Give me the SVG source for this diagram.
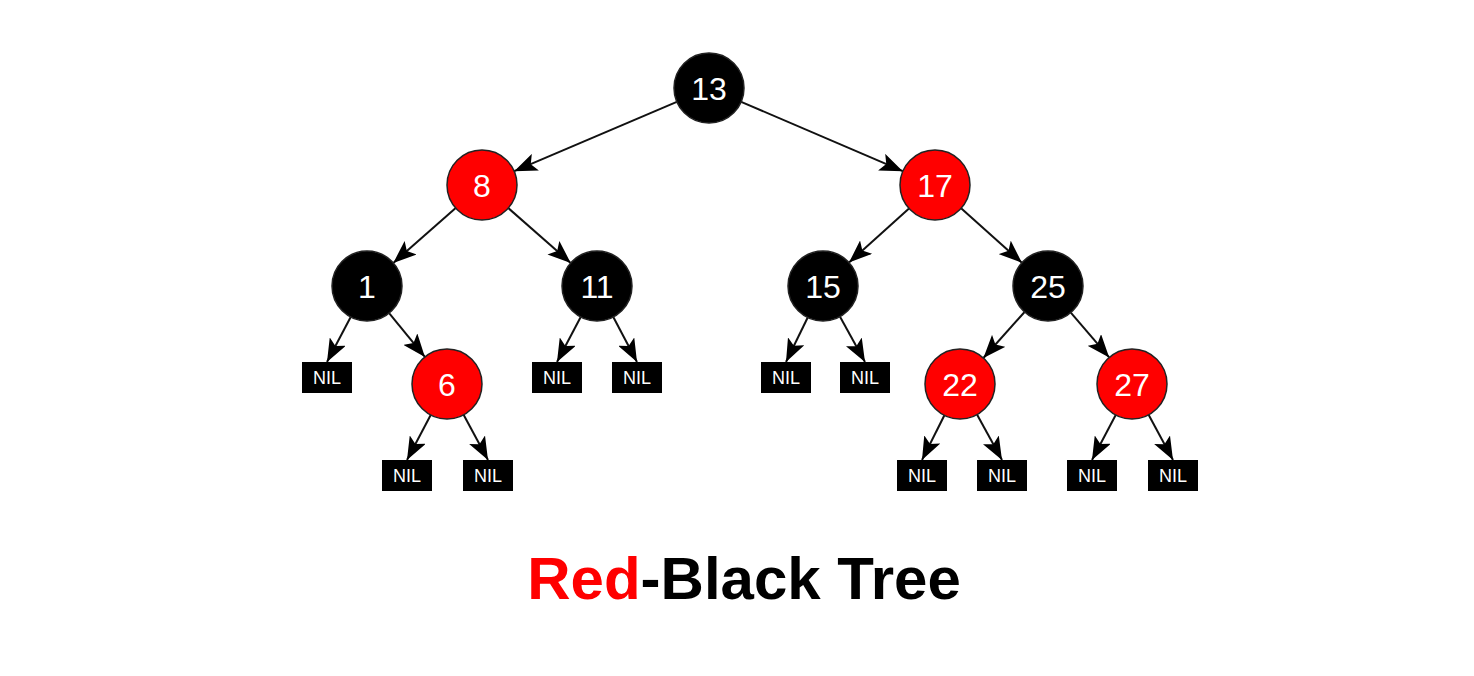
<svg xmlns="http://www.w3.org/2000/svg" width="1474" height="676" viewBox="0 0 1474 676">
<style>
.b{fill:#000;stroke:#222;stroke-width:1.5}
.r{fill:#f00;stroke:#222;stroke-width:1.5}
.nil{fill:#000}
.t{font-family:"Liberation Sans",Arial,sans-serif;font-size:32px;fill:#fff;text-anchor:middle}
.n{font-family:"Liberation Sans",Arial,sans-serif;font-size:18px;fill:#fff;text-anchor:middle}
#edges line{stroke:#111;stroke-width:2;marker-end:url(#ah)}
.title{font-family:"Liberation Sans",Arial,sans-serif;font-size:60px;font-weight:bold;text-anchor:middle}
</style>
<defs>
<marker id="ah" markerUnits="userSpaceOnUse" markerWidth="24" markerHeight="18" refX="23" refY="9" orient="auto">
<path d="M0,0 L23,9 L0,18 L5,9 z" fill="#000"/>
</marker>
</defs>
<rect width="1474" height="676" fill="#fff"/>
<g id="edges">
<line x1="676.8" y1="101.8" x2="514.2" y2="171.2"/>
<line x1="741.2" y1="101.8" x2="902.8" y2="171.2"/>
<line x1="455.7" y1="208.1" x2="393.3" y2="262.9"/>
<line x1="508.3" y1="208.1" x2="570.7" y2="262.9"/>
<line x1="909" y1="208.4" x2="849" y2="262.6"/>
<line x1="961.1" y1="208.3" x2="1021.9" y2="262.7"/>
<line x1="350.7" y1="317" x2="327" y2="362"/>
<line x1="389.1" y1="313.1" x2="424.9" y2="356.9"/>
<line x1="580.7" y1="317" x2="557" y2="362"/>
<line x1="613.3" y1="317" x2="637" y2="362"/>
<line x1="807.7" y1="317.5" x2="786" y2="362"/>
<line x1="839.9" y1="316.6" x2="865" y2="362"/>
<line x1="1024.6" y1="312" x2="983.4" y2="358"/>
<line x1="1070.8" y1="312.6" x2="1109.2" y2="357.4"/>
<line x1="430.7" y1="415" x2="407" y2="460"/>
<line x1="463.6" y1="414.8" x2="488" y2="460"/>
<line x1="944.4" y1="415.3" x2="922" y2="460"/>
<line x1="977" y1="414.6" x2="1002" y2="460"/>
<line x1="1115.7" y1="415" x2="1092" y2="460"/>
<line x1="1148.6" y1="414.8" x2="1173" y2="460"/>
</g>
<g id="n13"><circle class="b" cx="709" cy="88" r="35"/><text class="t" x="709" y="99.5">13</text></g>
<g id="n8"><circle class="r" cx="482" cy="185" r="35"/><text class="t" x="482" y="196.5">8</text></g>
<g id="n17"><circle class="r" cx="935" cy="185" r="35"/><text class="t" x="935" y="196.5">17</text></g>
<g id="n1"><circle class="b" cx="367" cy="286" r="35"/><text class="t" x="367" y="297.5">1</text></g>
<g id="n11"><circle class="b" cx="597" cy="286" r="35"/><text class="t" x="597" y="297.5">11</text></g>
<g id="n15"><circle class="b" cx="823" cy="286" r="35"/><text class="t" x="823" y="297.5">15</text></g>
<g id="n25"><circle class="b" cx="1048" cy="286" r="35"/><text class="t" x="1048" y="297.5">25</text></g>
<g id="n6"><circle class="r" cx="447" cy="384" r="35"/><text class="t" x="447" y="395.5">6</text></g>
<g id="n22"><circle class="r" cx="960" cy="384" r="35"/><text class="t" x="960" y="395.5">22</text></g>
<g id="n27"><circle class="r" cx="1132" cy="384" r="35"/><text class="t" x="1132" y="395.5">27</text></g>
<g id="nil1"><rect class="nil" x="302" y="362" width="50" height="31"/><text class="n" x="327" y="384">NIL</text></g>
<g id="nil2"><rect class="nil" x="382" y="460" width="50" height="31"/><text class="n" x="407" y="482">NIL</text></g>
<g id="nil3"><rect class="nil" x="463" y="460" width="50" height="31"/><text class="n" x="488" y="482">NIL</text></g>
<g id="nil4"><rect class="nil" x="532" y="362" width="50" height="31"/><text class="n" x="557" y="384">NIL</text></g>
<g id="nil5"><rect class="nil" x="612" y="362" width="50" height="31"/><text class="n" x="637" y="384">NIL</text></g>
<g id="nil6"><rect class="nil" x="761" y="362" width="50" height="31"/><text class="n" x="786" y="384">NIL</text></g>
<g id="nil7"><rect class="nil" x="840" y="362" width="50" height="31"/><text class="n" x="865" y="384">NIL</text></g>
<g id="nil8"><rect class="nil" x="897" y="460" width="50" height="31"/><text class="n" x="922" y="482">NIL</text></g>
<g id="nil9"><rect class="nil" x="977" y="460" width="50" height="31"/><text class="n" x="1002" y="482">NIL</text></g>
<g id="nil10"><rect class="nil" x="1067" y="460" width="50" height="31"/><text class="n" x="1092" y="482">NIL</text></g>
<g id="nil11"><rect class="nil" x="1148" y="460" width="50" height="31"/><text class="n" x="1173" y="482">NIL</text></g>
<text class="title" x="744" y="599"><tspan fill="#f00">Red</tspan><tspan fill="#000">-Black Tree</tspan></text>
</svg>
